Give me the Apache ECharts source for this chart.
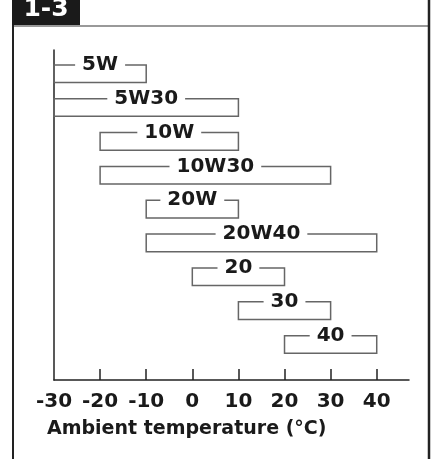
<!DOCTYPE html>
<html>
<head>
<meta charset="utf-8">
<script src="https://cdn.jsdelivr.net/npm/echarts@6/dist/echarts.min.js"></script>
<style>
  html, body { margin: 0; padding: 0; background: #fff; }
  #chart { width: 434px; height: 459px; }
</style>
</head>
<body>
<div id="chart"></div>
<script>
// oil grades and their usable ambient temperature ranges (°C)
const grades = ['5W', '5W30', '10W', '10W30', '20W', '20W40', '20', '30', '40']
const lowTemps = [-30, -30, -20, -20, -10, -10, 0, 10, 20]
const highTemps = [-10, 10, 10, 30, 10, 40, 20, 30, 40]
const xTicks = [-30, -20, -10, 0, 10, 20, 30, 40]

const FONT = '"DejaVu Sans", sans-serif'

const rows = grades.map((g, i) => [lowTemps[i], highTemps[i], i, g])

const chart = echarts.init(document.getElementById('chart'), null, { renderer: 'canvas' })

const renderRange = (params, api) => {
  const a = api.coord([api.value(0), api.value(2)])
  const b = api.coord([api.value(1), api.value(2)])
  const h = api.size([0, 1])[1] * 0.52
  const top = a[1] - h / 2
  return {
    type: 'group',
    children: [
      {
        type: 'rect',
        shape: { x: a[0], y: top, width: b[0] - a[0], height: h },
        style: { fill: 'none', stroke: '#666', lineWidth: 1.5 }
      },
      {
        type: 'text',
        x: (a[0] + b[0]) / 2,
        y: top,
        style: {
          text: grades[params.dataIndex],
          font: 'bold 20px ' + FONT,
          fill: '#1a1a1a',
          align: 'center',
          verticalAlign: 'middle',
          backgroundColor: '#fff',
          padding: [0, 7]
        }
      }
    ]
  }
}

chart.setOption({
  animation: false,
  grid: { left: 54, right: 25, top: 50, bottom: 79 },
  xAxis: {
    type: 'value',
    position: 'bottom',
    min: -30,
    max: 47,
    interval: 10,
    splitLine: { show: false },
    axisLine: { show: true, onZero: false, lineStyle: { color: '#222', width: 1.5 } },
    axisTick: {
      show: true,
      inside: true,
      length: 11,
      customValues: xTicks.slice(1),
      lineStyle: { color: '#222', width: 1.5 }
    },
    axisLabel: {
      customValues: xTicks,
      margin: 12,
      color: '#1a1a1a',
      fontSize: 20,
      fontWeight: 'bold',
      fontFamily: FONT
    }
  },
  yAxis: {
    type: 'value',
    position: 'left',
    inverse: true,
    min: -0.7,
    max: 9.05,
    splitLine: { show: false },
    axisLine: { show: true, onZero: false, lineStyle: { color: '#222', width: 1.5 } },
    axisTick: { show: false },
    axisLabel: { show: false }
  },
  series: [{
    type: 'custom',
    renderItem: renderRange,
    encode: { x: [0, 1], y: 2 },
    data: rows
  }],
  graphic: [
    { type: 'rect', shape: { x: 12, y: 0, width: 68, height: 25 }, style: { fill: '#1a1a1a' } },
    {
      type: 'text', x: 46, y: 9,
      style: { text: '1-3', font: 'bold 25px ' + FONT, fill: '#fff', align: 'center', verticalAlign: 'middle' }
    },
    { type: 'line', shape: { x1: 13, y1: 26, x2: 429, y2: 26 }, style: { stroke: '#777', lineWidth: 1.5 } },
    { type: 'line', shape: { x1: 13, y1: 25, x2: 13, y2: 459 }, style: { stroke: '#222', lineWidth: 2 } },
    { type: 'line', shape: { x1: 429, y1: 0, x2: 429, y2: 459 }, style: { stroke: '#222', lineWidth: 2.5 } },
    {
      type: 'text', x: 47, y: 429,
      style: {
        text: 'Ambient temperature (°C)',
        font: 'bold 19px ' + FONT,
        fill: '#1a1a1a',
        align: 'left',
        verticalAlign: 'middle'
      }
    }
  ]
})
</script>
</body>
</html>
